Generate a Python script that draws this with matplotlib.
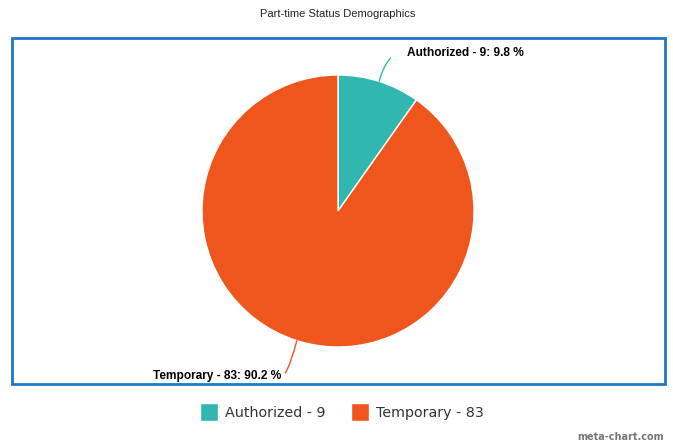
import matplotlib
matplotlib.use("Agg")
import matplotlib.pyplot as plt
from matplotlib.patches import Rectangle
import numpy as np

# data
labels = ["Authorized", "Temporary"]
counts = [9, 83]
colors = ["#32b6b0", "#ef561e"]

W, H = 673, 447
fig = plt.figure(figsize=(W / 100, H / 100), dpi=100)
fig.patch.set_facecolor("white")

# blue frame around the plot area
fig.patches.append(Rectangle((12 / W, 1 - 384 / H), 653 / W, 346 / H,
                             transform=fig.transFigure, fill=False,
                             ec="#1f77c9", lw=2))

# pie axes: center (338, 211) px, radius 136 px
cx, cy, r = 338, 211, 136
ax = fig.add_axes([(cx - r) / W, 1 - (cy + r) / H, 2 * r / W, 2 * r / H])
wedges, _ = ax.pie(counts, colors=colors, startangle=90, counterclock=False,
                   wedgeprops={"ec": "white", "lw": 1})
ax.set_xlim(-1, 1)
ax.set_ylim(-1, 1)
ax.set_aspect("auto")
ax.axis("off")

total = sum(counts)
for w, lab, n, col in zip(wedges, labels, counts, colors):
    ang = np.deg2rad((w.theta1 + w.theta2) / 2)
    x, y = np.cos(ang), np.sin(ang)
    txt = f"{lab} - {n}: {n / total * 100:.1f} %"
    if y > 0:
        ax.annotate(txt, xy=(x, y), xytext=(0.507, 1.165),
                    ha="left", va="center", fontsize=8.6, fontweight="bold",
                    family="Liberation Sans", annotation_clip=False,
                    arrowprops=dict(arrowstyle="-", color=col, lw=1,
                                    relpos=(0, 0.65), shrinkA=11, shrinkB=0,
                                    connectionstyle="angle3,angleA=0,angleB=75"))
    else:
        ax.annotate(txt, xy=(x, y), xytext=(-0.42, -1.21),
                    ha="right", va="center", fontsize=8.6, fontweight="bold",
                    family="Liberation Sans", annotation_clip=False,
                    arrowprops=dict(arrowstyle="-", color=col, lw=1,
                                    relpos=(1, 0.4), shrinkA=2, shrinkB=0,
                                    connectionstyle="angle3,angleA=0,angleB=75"))

fig.text(338 / W, 1 - 14 / H, "Part-time Status Demographics", ha="center",
         va="center", fontsize=8, family="Liberation Sans", color="#222222")

leg = fig.legend(wedges, [f"{l} - {n}" for l, n in zip(labels, counts)],
                 loc="center", bbox_to_anchor=(342 / W, 1 - 412 / H), ncol=2,
                 frameon=False, fontsize=10.3, handlelength=1.25,
                 handleheight=1.6, columnspacing=1.8, handletextpad=0.5)
for t in leg.get_texts():
    t.set_color("#333333")
    t.set_family("DejaVu Sans")

fig.text(664 / W, 1 - 437 / H, "meta-chart.com", ha="right", va="center",
         fontsize=7, color="#777777", fontweight="bold", family="DejaVu Sans")

fig.savefig("out.png", dpi=100)
